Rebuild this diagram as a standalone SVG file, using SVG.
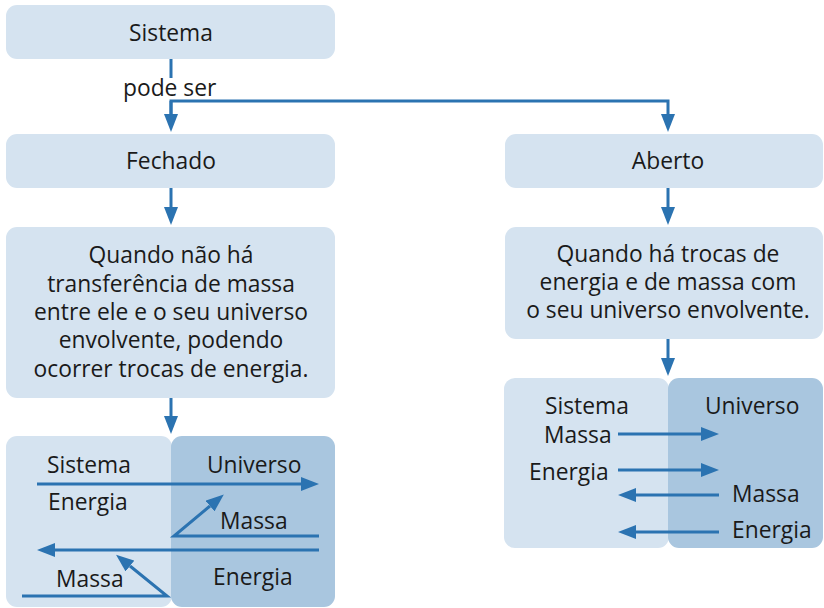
<svg xmlns="http://www.w3.org/2000/svg" width="824" height="608" viewBox="0 0 824 608">
<style>
.box{fill:#d5e3f0}
.dark{fill:#a9c6df}
.t{font-family:"Open Sans","DejaVu Sans",sans-serif;font-size:22.8px;fill:#1a1a1a}
.c{text-anchor:middle}
.ln{stroke:#2b73b1;stroke-width:3;fill:none}
</style>
<defs>
<marker id="ah" markerUnits="userSpaceOnUse" markerWidth="18" markerHeight="14" refX="0" refY="7" orient="auto">
<path d="M0,0 L18,7 L0,14 z" fill="#2b73b1"/>
</marker>
</defs>
<rect width="824" height="608" fill="#fff"/>
<g id="sistema">
<rect class="box" x="6" y="5" width="329" height="54" rx="11"/>
<text class="t c" x="171" y="41">Sistema</text>
</g>
<g id="fechado">
<rect class="box" x="6" y="134" width="329" height="54" rx="11"/>
<text class="t c" x="171" y="169">Fechado</text>
</g>
<g id="aberto">
<rect class="box" x="505" y="134" width="318" height="54" rx="11"/>
<text class="t c" x="668" y="169">Aberto</text>
</g>
<g id="fechado-desc">
<rect class="box" x="6" y="227" width="329" height="171" rx="11"/>
<text class="t c" x="171" y="263">Quando não há</text>
<text class="t c" x="171" y="292">transferência de massa</text>
<text class="t c" x="171" y="320">entre ele e o seu universo</text>
<text class="t c" x="171" y="348">envolvente, podendo</text>
<text class="t c" x="171" y="377">ocorrer trocas de energia.</text>
</g>
<g id="aberto-desc">
<rect class="box" x="505" y="227" width="318" height="112" rx="11"/>
<text class="t c" x="668" y="262">Quando há trocas de</text>
<text class="t c" x="668" y="290">energia e de massa com</text>
<text class="t c" x="668" y="318">o seu universo envolvente.</text>
</g>
<g id="fechado-diagrama">
<rect class="box" x="6" y="436" width="166" height="171" rx="11"/>
<rect class="dark" x="171" y="436" width="164" height="171" rx="11"/>
<text class="t" x="47" y="473">Sistema</text>
<text class="t" x="207" y="473">Universo</text>
<text class="t" x="48" y="510">Energia</text>
<text class="t" x="220" y="529">Massa</text>
<text class="t" x="213" y="585">Energia</text>
<text class="t" x="56" y="587">Massa</text>
<path class="ln" d="M37,484 H301" marker-end="url(#ah)"/>
<path class="ln" d="M319,536 H174 L210,506" marker-end="url(#ah)"/>
<path class="ln" d="M319,550 H55" marker-end="url(#ah)"/>
<path class="ln" d="M22,596 H167 L130,566" marker-end="url(#ah)"/>
</g>
<g id="aberto-diagrama">
<rect class="box" x="504" y="378" width="165" height="170" rx="11"/>
<rect class="dark" x="668" y="378" width="155" height="170" rx="11"/>
<text class="t" x="545" y="414">Sistema</text>
<text class="t" x="705" y="414">Universo</text>
<text class="t" x="544" y="443">Massa</text>
<text class="t" x="529" y="480">Energia</text>
<text class="t" x="732" y="502">Massa</text>
<text class="t" x="732" y="538">Energia</text>
<path class="ln" d="M618,434 H701" marker-end="url(#ah)"/>
<path class="ln" d="M618,470 H701" marker-end="url(#ah)"/>
<path class="ln" d="M719,495 H636" marker-end="url(#ah)"/>
<path class="ln" d="M719,532 H636" marker-end="url(#ah)"/>
</g>
<g id="connectors">
<path class="ln" d="M171,59 V78"/>
<text class="t" x="123" y="96">pode ser</text>
<path class="ln" d="M171,114 V101 H668 V114" marker-end="url(#ah)"/>
<path class="ln" d="M171,101 V114" marker-end="url(#ah)"/>
<path class="ln" d="M171,188 V207" marker-end="url(#ah)"/>
<path class="ln" d="M668,188 V207" marker-end="url(#ah)"/>
<path class="ln" d="M171,398 V416" marker-end="url(#ah)"/>
<path class="ln" d="M668,339 V358" marker-end="url(#ah)"/>
</g>
</svg>
